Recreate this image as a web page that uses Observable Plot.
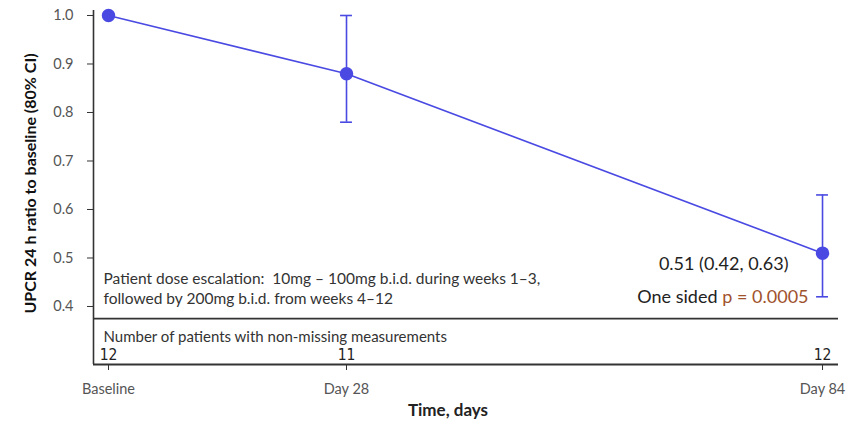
<!DOCTYPE html>
<html>
<head>
<meta charset="utf-8">
<script src="https://cdn.jsdelivr.net/npm/d3@7"></script>
<script src="https://cdn.jsdelivr.net/npm/@observablehq/plot@0.6"></script>
<style>
  html, body { margin: 0; padding: 0; background: #fff; }
  #chart svg { display: block; }
</style>
</head>
<body>
<div id="chart"></div>
<script>
// ---- data ----
const days = [0, 28, 84];
const timeLabels = ["Baseline", "Day 28", "Day 84"];
const ratio = [1.0, 0.88, 0.51];
const lower = [null, 0.78, 0.42];
const upper = [null, 1.0, 0.63];
const nPatients = [12, 11, 12];
const yTicks = [0.4, 0.5, 0.6, 0.7, 0.8, 0.9, 1.0];
const yLabel = "UPCR 24 h ratio to baseline (80% CI)";
const xLabel = "Time, days";
const doseNote = "Patient dose escalation:  10mg \u2013 100mg b.i.d. during weeks 1\u20133,\nfollowed by 200mg b.i.d. from weeks 4\u201312";
const estimateNote = "0.51 (0.42, 0.63)";
const pPrefix = "One sided";
const pValue = "p = 0.0005";
const countsTitle = "Number of patients with non-missing measurements";

const rows = days.map((d, i) => ({day: d, label: timeLabels[i], ratio: ratio[i], lo: lower[i], hi: upper[i], n: nPatients[i]}));
const ci = rows.filter(r => r.lo != null);

const xDomain = [-1.765, 85.88];
const yDomain = [0.2804, 1.0103];
const xMin = xDomain[0], xMax = xDomain[1];
const yMin = yDomain[0];
const panelBottom = 0.375;   // divider between chart and count row
const countsY = 0.299;
const countsTitleY = 0.336;
const doseY = 0.439;
const last = rows[rows.length - 1];

const blue = "#4a4ae3";
const font = "Lato, 'Open Sans', sans-serif";

const chart = Plot.plot({
  width: 850,
  height: 426,
  marginLeft: 93,
  marginRight: 12,
  marginTop: 10,
  marginBottom: 62,
  style: {fontFamily: font, background: "#fff"},
  x: {domain: xDomain},
  y: {domain: yDomain},
  marks: [
    // frame lines
    Plot.ruleX([xMin], {y1: yMin, y2: yDomain[1], stroke: "#333", strokeWidth: 1.6}),
    Plot.ruleY([panelBottom], {x1: xMin, x2: xMax, stroke: "#333", strokeWidth: 1.8}),
    Plot.ruleY([yMin], {x1: xMin, x2: xMax, stroke: "#333", strokeWidth: 1.8}),
    // axes
    Plot.axisY({ticks: yTicks, tickFormat: d3.format(".1f"), tickSize: 6, tickPadding: 14, fontSize: 14.5, fill: "#555", stroke: "#333", label: null}),
    Plot.axisX({ticks: days, tickFormat: (d) => timeLabels[days.indexOf(d)], tickSize: 6, tickPadding: 13, fontSize: 14.5, fill: "#555", stroke: "#333", label: null}),
    // axis titles
    Plot.text([yLabel], {frameAnchor: "left", textAnchor: "middle", rotate: -90, dx: -63, dy: -4, fontSize: 16, fontWeight: "bold", fill: "#111"}),
    Plot.text([xLabel], {frameAnchor: "bottom", dy: 51, dx: -18, fontSize: 17, fontWeight: "bold", fill: "#222"}),
    // series
    Plot.ruleX(ci, {x: "day", y1: "lo", y2: "hi", stroke: blue, strokeWidth: 1.6}),
    Plot.ruleY(ci, {y: "lo", x1: d => d.day - 0.7, x2: d => d.day + 0.7, stroke: blue, strokeWidth: 1.6}),
    Plot.ruleY(ci, {y: "hi", x1: d => d.day - 0.7, x2: d => d.day + 0.7, stroke: blue, strokeWidth: 1.6}),
    Plot.line(rows, {x: "day", y: "ratio", stroke: blue, strokeWidth: 1.6}),
    Plot.dot(rows, {x: "day", y: "ratio", r: 6, fill: blue, stroke: blue}),
    // annotations
    Plot.text([doseNote], {x: xMin, y: doseY, dx: 10, textAnchor: "start", lineHeight: 1.3, fontSize: 15.5, fill: "#333"}),
    Plot.text([last], {x: "day", y: "ratio", text: () => estimateNote, dx: -34, dy: 11, textAnchor: "end", fontSize: 18, fill: "#222"}),
    Plot.text([last], {x: "day", y: "ratio", text: () => pValue, dx: -14, dy: 44, textAnchor: "end", fontSize: 18, fill: "#a0522d"}),
    Plot.text([last], {x: "day", y: "ratio", text: () => pPrefix, dx: -105, dy: 44, textAnchor: "end", fontSize: 18, fill: "#222"}),
    // counts row
    Plot.text([countsTitle], {x: xMin, y: countsTitleY, dx: 10, textAnchor: "start", fontSize: 15, fill: "#333"}),
    Plot.text(rows, {x: "day", y: countsY, text: d => String(d.n), fontSize: 15.5, fill: "#222", fontFamily: "'Liberation Sans Narrow', 'DejaVu Sans Condensed', sans-serif"})
  ]
});
document.getElementById("chart").appendChild(chart);
</script>
</body>
</html>
